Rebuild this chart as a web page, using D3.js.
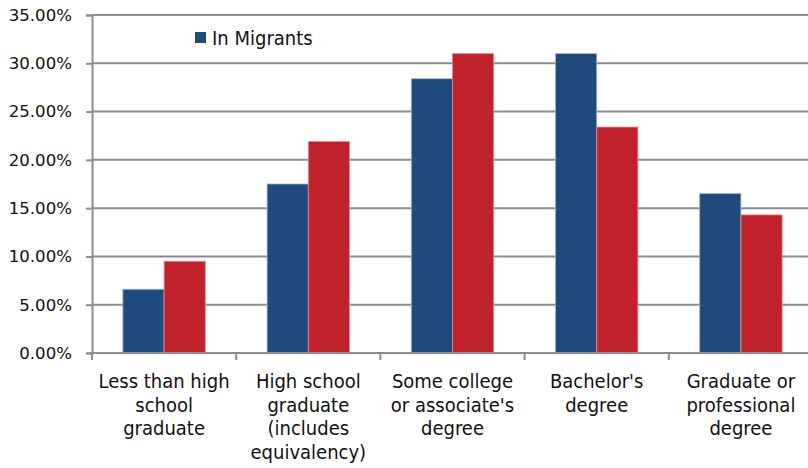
<!DOCTYPE html>
<html>
<head>
<meta charset="utf-8">
<script src="https://cdn.jsdelivr.net/npm/d3@7/dist/d3.min.js"></script>
<style>
  html, body { margin: 0; padding: 0; background: #fff; }
  svg { display: block; }
</style>
</head>
<body>
<svg id="chart" width="808" height="468"></svg>
<script>
// Educational attainment shares, two series per category
const categories = [
  ["Less than high", "school", "graduate"],
  ["High school", "graduate", "(includes", "equivalency)"],
  ["Some college", "or associate's", "degree"],
  ["Bachelor's", "degree"],
  ["Graduate or", "professional", "degree"]
];
const inMigrants  = [0.066, 0.175, 0.284, 0.310, 0.165];
const outMigrants = [0.095, 0.219, 0.310, 0.234, 0.143];
const yTicks = [0, 0.05, 0.10, 0.15, 0.20, 0.25, 0.30, 0.35];
const legendLabel = "In Migrants";

const svg = d3.select("#chart");
const margin = { left: 92, top: 15, bottom: 115 };
const plotW = 721;           // plot runs slightly past the right edge
const plotH = 468 - margin.top - margin.bottom;

const x = d3.scaleBand()
  .domain(d3.range(categories.length))
  .range([margin.left, margin.left + plotW])
  .paddingInner(0).paddingOuter(0);

// two bars per band, gap of 1.5 bar widths
const barW = x.bandwidth() / 3.5;
const sub = d3.scaleBand().domain([0, 1])
  .range([x.bandwidth() / 2 - barW, x.bandwidth() / 2 + barW]);

const y = d3.scaleLinear().domain([0, 0.35]).range([margin.top + plotH, margin.top]);

const gridColor = "#8c8c8c";

// horizontal gridlines
svg.append("g")
  .selectAll("line")
  .data(yTicks.filter(d => d > 0))
  .join("line")
  .attr("x1", margin.left).attr("x2", 808)
  .attr("y1", d => y(d)).attr("y2", d => y(d))
  .attr("stroke", gridColor).attr("stroke-width", 2);

// bars
const series = [
  { values: inMigrants, color: "#1f4a7d", edge: "#9fb3cf" },
  { values: outMigrants, color: "#c0212a", edge: "#e68a8e" }
];
series.forEach((s, si) => {
  svg.append("g")
    .selectAll("rect")
    .data(s.values)
    .join("rect")
    .attr("x", (d, i) => x(i) + sub(si))
    .attr("width", sub.bandwidth())
    .attr("y", d => y(d))
    .attr("height", d => y(0) - y(d))
    .attr("fill", s.color)
    .attr("stroke", s.edge)
    .attr("stroke-width", 0.8);
});

// y axis
const yAxis = d3.axisLeft(y)
  .tickValues(yTicks)
  .tickFormat(d3.format(".2%"))
  .tickSize(6)
  .tickPadding(14);
const gy = svg.append("g")
  .attr("transform", `translate(${margin.left},0)`)
  .call(yAxis);
gy.select(".domain").attr("stroke", gridColor).attr("stroke-width", 2);
gy.selectAll(".tick line").attr("stroke", gridColor).attr("stroke-width", 2);
gy.selectAll(".tick text")
  .attr("fill", "#111")
  .style("font-family", "'DejaVu Sans', Verdana, sans-serif")
  .style("font-size", "16.6px");

// x axis baseline with boundary ticks
const gx = svg.append("g")
  .attr("transform", `translate(0,${y(0)})`);
gx.append("line")
  .attr("x1", margin.left).attr("x2", 808)
  .attr("stroke", gridColor).attr("stroke-width", 2);
gx.selectAll(".bt")
  .data(d3.range(categories.length + 1))
  .join("line")
  .attr("class", "bt")
  .attr("x1", i => margin.left + i * x.step())
  .attr("x2", i => margin.left + i * x.step())
  .attr("y1", 0).attr("y2", 7)
  .attr("stroke", gridColor).attr("stroke-width", 2);

// category labels
const labelFont = "'DejaVu Sans Condensed', 'DejaVu Sans', sans-serif";
svg.append("g")
  .selectAll("text")
  .data(categories)
  .join("text")
  .attr("text-anchor", "middle")
  .attr("fill", "#111")
  .style("font-family", labelFont)
  .style("font-stretch", "condensed")
  .style("font-size", "20px")
  .each(function(lines, i) {
    d3.select(this).selectAll("tspan")
      .data(lines)
      .join("tspan")
      .attr("x", x(i) + x.bandwidth() / 2)
      .attr("y", (l, k) => 388 + k * 23.7)
      .text(l => l);
  });

// legend
const lg = svg.append("g").attr("transform", "translate(195,32)");
lg.append("rect").attr("width", 11).attr("height", 11).attr("fill", "#1f4a7d");
lg.append("text")
  .attr("x", 17).attr("y", 12.5)
  .attr("fill", "#111")
  .style("font-family", labelFont)
  .style("font-stretch", "condensed")
  .style("font-size", "20px")
  .text(legendLabel);
</script>
</body>
</html>
